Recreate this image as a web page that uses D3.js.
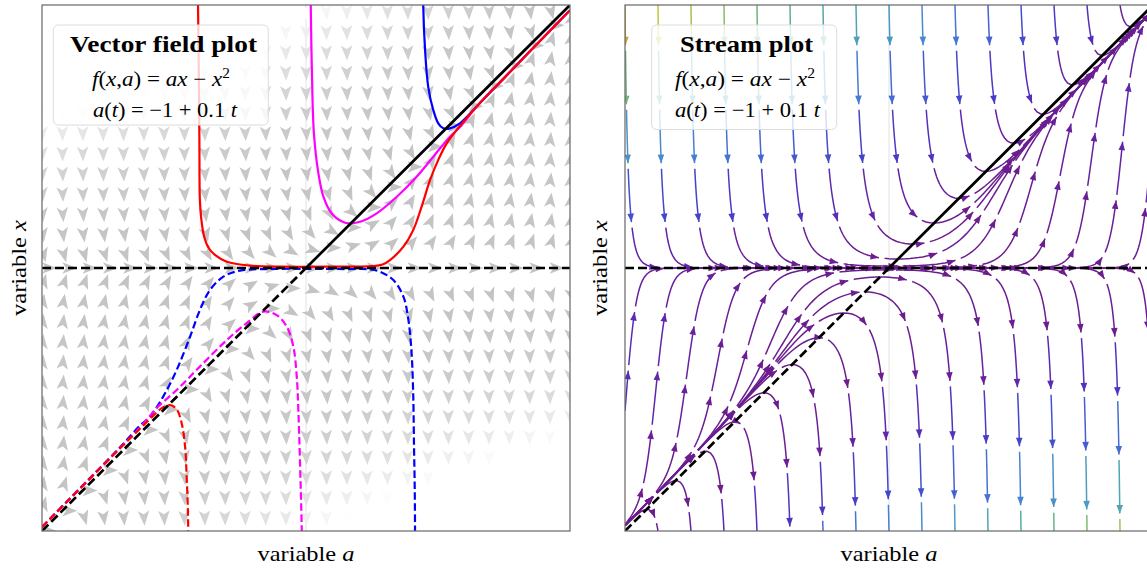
<!DOCTYPE html>
<html lang="en">
<head>
<meta charset="UTF-8">
<title>Transcritical bifurcation: vector field and stream plot</title>
<script src="https://d3js.org/d3.v7.min.js"></script>
<style>
  body { margin: 0; background: #fff; }
  svg { display: block; font-family: "Liberation Serif", "DejaVu Serif", serif; }
</style>
</head>
<body>
<div id="chart"></div>
<script>
// ---- values ----
// trajectories in the vector field panel, [a, x] pairs
const redSolid = [[-0.410, 1.03], [-0.409, 1.0], [-0.404, 0.513], [-0.402, 0.259], [-0.397, 0.19], [-0.386, 0.12],
  [-0.368, 0.075], [-0.345, 0.05], [-0.30, 0.024], [-0.21, 0.009], [-0.1, 0.005], [0.1, 0.005], [0.25, 0.007],
  [0.29, 0.013], [0.318, 0.030], [0.369, 0.081], [0.406, 0.144], [0.438, 0.233], [0.470, 0.335], [0.501, 0.411],
  [0.533, 0.474], [0.571, 0.525], [0.65, 0.618], [0.75, 0.722], [0.85, 0.826], [1.0, 0.98]];
const magentaSolid = [[0.018, 1.03], [0.018, 1.0], [0.022, 0.765], [0.030, 0.512], [0.047, 0.360], [0.066, 0.271],
  [0.097, 0.208], [0.148, 0.172], [0.205, 0.176], [0.268, 0.208], [0.344, 0.271], [0.419, 0.347], [0.482, 0.423],
  [0.545, 0.499], [0.583, 0.536], [0.65, 0.618], [0.75, 0.722], [0.85, 0.826], [1.0, 0.98]];
const blueSolid = [[0.444, 1.03], [0.444, 1.0], [0.451, 0.829], [0.463, 0.689], [0.482, 0.601], [0.501, 0.550],
  [0.520, 0.531], [0.545, 0.531], [0.583, 0.550], [0.65, 0.618], [0.75, 0.722], [0.85, 0.826], [1.0, 0.98]];
const redDashed = [[-1.0, -0.985], [-0.9, -0.883], [-0.8, -0.782], [-0.7, -0.681], [-0.63, -0.612], [-0.58, -0.563],
  [-0.545, -0.532], [-0.515, -0.521], [-0.49, -0.537], [-0.471, -0.590], [-0.458, -0.679], [-0.452, -0.794],
  [-0.448, -0.9], [-0.446, -1.0], [-0.446, -1.03]];
const magentaDashed = [[-1.0, -0.985], [-0.9, -0.883], [-0.8, -0.782], [-0.7, -0.68], [-0.62, -0.597],
  [-0.566, -0.533], [-0.490, -0.464], [-0.402, -0.375], [-0.300, -0.274], [-0.225, -0.210], [-0.162, -0.166],
  [-0.111, -0.179], [-0.073, -0.223], [-0.048, -0.299], [-0.035, -0.413], [-0.029, -0.540], [-0.023, -0.730],
  [-0.016, -1.0], [-0.016, -1.03]];
const blueDashed = [[-1.0, -0.985], [-0.9, -0.882], [-0.8, -0.78], [-0.7, -0.677], [-0.63, -0.6], [-0.591, -0.565],
  [-0.541, -0.489], [-0.490, -0.388], [-0.439, -0.261], [-0.402, -0.160], [-0.364, -0.084], [-0.313, -0.033],
  [-0.25, -0.010], [-0.149, -0.004], [0.0, -0.003], [0.15, -0.004], [0.242, -0.005], [0.280, -0.014],
  [0.331, -0.046], [0.369, -0.109], [0.388, -0.198], [0.400, -0.324], [0.406, -0.476], [0.409, -0.667],
  [0.412, -0.85], [0.413, -1.0], [0.413, -1.03]];

// equilibrium branches
const stableBranch = [[0, 0], [1, 1]];
const unstableBranch = [[-1, -1], [0, 0]];
const zeroBranch = [[-1, 0], [1, 0]];

// panel texts
const panelTitles = ["Vector field plot", "Stream plot"];
const axisLabelA = "variable ", axisLabelX = "variable ";

const fieldGain = 50;
const fieldGrid = d3.range(27).map(i => -1 + i / 13);

// stream colours by |f|
const streamStops = [0, 0.12, 0.22, 0.32, 0.45, 0.65, 0.85, 1.05, 1.3, 1.5, 1.7, 1.88, 2.0];
const streamColors = ["#6c1d8d", "#6a1f9c", "#5b2ab2", "#4d36c2", "#4444cc", "#4466d2", "#4886d0", "#4c9ec0",
  "#56aca0", "#6cb67e", "#96c25a", "#c2c63a", "#c8a522"];

// ---- layout ----
const W = 1147, H = 572;
const pw = 528, ph = 526, panelTop = 5;
const lefts = [42, 625];

const svg = d3.select("#chart").append("svg").attr("width", W).attr("height", H);
const sa = d3.scaleLinear().domain([-1, 1]).range([0, pw]);
const sx = d3.scaleLinear().domain([-1, 1]).range([ph, 0]);
const defs = svg.append("defs");
["clipL", "clipR"].forEach(id => defs.append("clipPath").attr("id", id)
  .append("rect").attr("width", pw).attr("height", ph));

const line = d3.line().x(d => sa(d[0])).y(d => sx(d[1])).curve(d3.curveCatmullRom.alpha(0.5));
const straight = d3.line().x(d => sa(d[0])).y(d => sx(d[1]));

const gL = svg.append("g").attr("transform", `translate(${lefts[0]},${panelTop})`);
const gR = svg.append("g").attr("transform", `translate(${lefts[1]},${panelTop})`);

// ---- left: vector field ----
const bodyL = gL.append("g").attr("clip-path", "url(#clipL)");
bodyL.append("line").attr("x1", sa(0)).attr("x2", sa(0)).attr("y1", 0).attr("y2", ph)
  .attr("stroke", "#e2e2e2").attr("stroke-width", 1);

const arrows = [];
fieldGrid.forEach(a => fieldGrid.forEach(x => arrows.push({ a, x, f: x * (a - x) })));
const shade = d3.interpolateRgb("#c4c4c4", "#ffffff");
bodyL.append("g").selectAll("path").data(arrows).join("path")
  .attr("d", "M15,0L0,5.8L3.6,0L0,-5.8Z")
  .attr("transform", d => {
    const dx = sa(d.a + 0.01) - sa(d.a);
    const dy = sx(d.x + 0.01 * fieldGain * d.f) - sx(d.x);
    return `translate(${sa(d.a)},${sx(d.x)}) rotate(${Math.atan2(dy, dx) * 180 / Math.PI})`;
  })
  .attr("fill", d => shade(Math.min(1, d.f * d.f)));

const curves = [
  { data: blueDashed, color: "#0000ff", dash: "7.5,3.5" },
  { data: magentaDashed, color: "#ff00ff", dash: "7.5,3.5" },
  { data: redDashed, color: "#ff0000", dash: "7.5,3.5" },
  { data: blueSolid, color: "#0000ff", dash: null },
  { data: magentaSolid, color: "#ff00ff", dash: null },
  { data: redSolid, color: "#ff0000", dash: null }
];
bodyL.append("g").selectAll("path").data(curves).join("path")
  .attr("d", d => line(d.data)).attr("fill", "none")
  .attr("stroke", d => d.color).attr("stroke-width", 2.2)
  .attr("stroke-dasharray", d => d.dash);

function branches(g) {
  g.append("path").attr("d", straight(zeroBranch)).attr("stroke", "#000").attr("stroke-width", 2.7)
    .attr("stroke-dasharray", "9,4").attr("fill", "none");
  g.append("path").attr("d", straight(unstableBranch)).attr("stroke", "#000").attr("stroke-width", 2.7)
    .attr("stroke-dasharray", "9,4").attr("fill", "none");
  g.append("path").attr("d", straight(stableBranch)).attr("stroke", "#000").attr("stroke-width", 2.7)
    .attr("fill", "none");
}
branches(bodyL);

// ---- right: stream plot (mask-seeded streamlines, unbroken) ----
const streamMask = 17, maxlength = 4.0, minlength = 0.1;
function computeStreamlines() {
  const G = 101, M = streamMask;
  const occ = new Uint8Array(M * M);
  let cur = null, cells = [];
  const inGrid = (xi, yi) => xi >= 0 && xi <= G - 1 && yi >= 0 && yi <= G - 1;
  const toMask = v => Math.round(v * (M - 1) / (G - 1));
  function mark(xg, yg) {
    const xm = toMask(xg), ym = toMask(yg);
    if (cur && cur[0] === xm && cur[1] === ym) return;
    const k = ym * M + xm;
    if (!occ[k]) { occ[k] = 1; cells.push(k); cur = [xm, ym]; }
  }
  function vel(xi, yi, sgn) {
    const a = -1 + 2 * xi / (G - 1), x = -1 + 2 * yi / (G - 1);
    const u = 1, v = fieldGain * x * (a - x);
    const sp = Math.hypot(u, v);
    return [sgn * (G - 1) * u / sp, sgn * (G - 1) * v / sp];
  }
  const maxds = 0.008, maxerr = 0.003;
  function rk12(x0, y0, sgn) {
    let ds = maxds, stot = 0, xi = x0, yi = y0;
    const pts = [];
    const euler = () => {
      const [px, py] = pts[pts.length - 1];
      const [cx, cy] = vel(px, py, sgn);
      const dsx = cx === 0 ? Infinity : cx < 0 ? px / -cx : (G - 1 - px) / cx;
      const dsy = cy === 0 ? Infinity : cy < 0 ? py / -cy : (G - 1 - py) / cy;
      const d = Math.min(dsx, dsy);
      pts.push([px + cx * d, py + cy * d]);
      stot += d;
    };
    for (let it = 0; it < 40000; it++) {
      if (!inGrid(xi, yi)) { if (pts.length) euler(); break; }
      pts.push([xi, yi]);
      const k1 = vel(xi, yi, sgn);
      const xt = xi + ds * k1[0], yt = yi + ds * k1[1];
      if (!inGrid(xt, yt)) { euler(); break; }
      const k2 = vel(xt, yt, sgn);
      const dx1 = ds * k1[0], dy1 = ds * k1[1];
      const dx2 = ds * 0.5 * (k1[0] + k2[0]), dy2 = ds * 0.5 * (k1[1] + k2[1]);
      const err = Math.hypot((dx2 - dx1) / (G - 1), (dy2 - dy1) / (G - 1));
      if (err < maxerr) {
        xi += dx2; yi += dy2;
        if (!inGrid(xi, yi)) break;
        mark(xi, yi);
        if (stot + ds > maxlength) break;
        stot += ds;
      }
      ds = err === 0 ? maxds : Math.min(maxds, 0.85 * ds * Math.sqrt(maxerr / err));
    }
    return { s: stot, pts };
  }
  function integrate(x0, y0) {
    cells = [];
    const xm = toMask(x0), ym = toMask(y0);
    if (occ[ym * M + xm]) return null;
    occ[ym * M + xm] = 1; cells.push(ym * M + xm); cur = [xm, ym];
    const b = rk12(x0, y0, -1);
    cur = [xm, ym];
    const f = rk12(x0, y0, 1);
    if (b.s + f.s > minlength) return b.pts.reverse().concat(f.pts.slice(1));
    cells.forEach(k => { occ[k] = 0; });
    return null;
  }
  function* spiral(n) {
    let xf = 0, yf = 1, xl = n - 1, yl = n - 1, x = 0, y = 0, dir = 0;
    for (let i = 0; i < n * n; i++) {
      yield [x, y];
      if (dir === 0) { x += 1; if (x >= xl) { xl -= 1; dir = 1; } }
      else if (dir === 1) { y += 1; if (y >= yl) { yl -= 1; dir = 2; } }
      else if (dir === 2) { x -= 1; if (x <= xf) { xf += 1; dir = 3; } }
      else { y -= 1; if (y <= yf) { yf += 1; dir = 0; } }
    }
  }
  const out = [];
  for (const [xm, ym] of spiral(M)) {
    // side columns are only seeded at the corners
    if ((xm === 0 || xm === M - 1) && ym > 0 && ym < M - 1) continue;
    if (occ[ym * M + xm]) continue;
    const t = integrate(xm * (G - 1) / (M - 1), ym * (G - 1) / (M - 1));
    if (t) out.push(t.map(([xi, yi]) => [-1 + 2 * xi / (G - 1), -1 + 2 * yi / (G - 1)]));
  }
  return out;
}

const streamColor = d3.scaleLinear().domain(streamStops).range(streamColors).clamp(true);
const piecePeriod = 59, piecePhase = 43, pieceGap = 2.8;
const bodyR = gR.append("g").attr("clip-path", "url(#clipR)");
bodyR.append("line").attr("x1", sa(0)).attr("x2", sa(0)).attr("y1", 0).attr("y2", ph)
  .attr("stroke", "#e2e2e2").attr("stroke-width", 1);
const streamG = bodyR.append("g");

function drawStream(tr) {
  const P = tr.map(d => [sa(d[0]), sx(d[1])]);
  const S = [0];
  for (let i = 1; i < P.length; i++) S.push(S[i - 1] + Math.hypot(P[i][0] - P[i - 1][0], P[i][1] - P[i - 1][1]));
  const total = S[S.length - 1];
  const at = s => {
    let i = d3.bisectRight(S, s) - 1;
    i = Math.max(0, Math.min(P.length - 2, i));
    const seg = S[i + 1] - S[i], t = seg > 0 ? (s - S[i]) / seg : 0;
    return [P[i][0] + t * (P[i + 1][0] - P[i][0]), P[i][1] + t * (P[i + 1][1] - P[i][1])];
  };
  let start = 0, end = piecePhase;
  while (start < total) {
    const full = end <= total;
    const s0 = start === 0 ? 0 : start + pieceGap;
    const s1 = full ? end - pieceGap : total;
    if (s1 - s0 > 0.5) {
      const pts = [at(s0)];
      for (let i = 0; i < P.length; i++) if (S[i] > s0 && S[i] < s1) pts.push(P[i]);
      pts.push(at(s1));
      const p0 = pts[0];
      const col = streamColor(Math.abs(sx.invert(p0[1]) * (sa.invert(p0[0]) - sx.invert(p0[1]))));
      streamG.append("path").attr("d", d3.line()(pts)).attr("fill", "none")
        .attr("stroke", col).attr("stroke-width", 1.5);
      if (full) {
        const tip = at(s1), back = at(Math.max(0, s1 - 2));
        let ux = tip[0] - back[0], uy = tip[1] - back[1];
        const n = Math.hypot(ux, uy) || 1; ux /= n; uy /= n;
        const bx = tip[0] - ux * 8.5, by = tip[1] - uy * 8.5;
        streamG.append("path")
          .attr("d", `M${tip[0]},${tip[1]}L${bx + uy * 3.3},${by - ux * 3.3}L${bx - uy * 3.3},${by + ux * 3.3}Z`)
          .attr("fill", col);
      }
    }
    start = end; end += piecePeriod;
  }
}
computeStreamlines().forEach(drawStream);
branches(bodyR);

// ---- frames, legends, labels ----
[gL, gR].forEach(g => g.append("rect").attr("width", pw).attr("height", ph)
  .attr("fill", "none").attr("stroke", "#666").attr("stroke-width", 1.2));

const legends = [
  { box: [53.3, 25, 215, 100], title: [163.5, 187], l2: [161, 138], l3: [165, 144] },
  { box: [651.7, 25, 185, 104.5], title: [746.5, 133], l2: [745, 140], l3: [747.5, 145] }
];
legends.forEach((L, i) => {
  const g = svg.append("g");
  g.append("rect").attr("x", L.box[0]).attr("y", L.box[1]).attr("width", L.box[2]).attr("height", L.box[3])
    .attr("rx", 5).attr("fill", "#fff").attr("fill-opacity", 0.8).attr("stroke", "#dcdcdc").attr("stroke-width", 1);
  g.append("text").attr("x", L.title[0]).attr("y", 52).attr("text-anchor", "middle")
    .attr("font-size", 23).attr("font-weight", "bold")
    .attr("textLength", L.title[1]).attr("lengthAdjust", "spacingAndGlyphs").text(panelTitles[i]);
  const t2 = g.append("text").attr("x", L.l2[0]).attr("y", 86).attr("text-anchor", "middle").attr("font-size", 21)
    .attr("textLength", L.l2[1]).attr("lengthAdjust", "spacingAndGlyphs");
  [["f", 1], ["(", 0], ["x", 1], [",", 0], ["a", 1], [")", 0], [" = ", 0], ["ax", 1], [" \u2212 ", 0], ["x", 1]]
    .forEach(([s, it]) => t2.append("tspan").attr("font-style", it ? "italic" : null).text(s));
  t2.append("tspan").attr("font-size", 14).attr("dy", -8).text("2");
  const t3 = g.append("text").attr("x", L.l3[0]).attr("y", 116.5).attr("text-anchor", "middle").attr("font-size", 21)
    .attr("textLength", L.l3[1]).attr("lengthAdjust", "spacingAndGlyphs");
  [["a", 1], ["(", 0], ["t", 1], [")", 0], [" = \u22121 + 0.1 ", 0], ["t", 1]]
    .forEach(([s, it]) => t3.append("tspan").attr("font-style", it ? "italic" : null).text(s));
});

lefts.forEach((l, i) => {
  const xl = svg.append("text").attr("x", l + pw / 2).attr("y", 561).attr("text-anchor", "middle")
    .attr("font-size", 22).attr("textLength", 97).attr("lengthAdjust", "spacingAndGlyphs");
  xl.append("tspan").text(axisLabelA);
  xl.append("tspan").attr("font-style", "italic").text("a");
  const yl = svg.append("text").attr("transform", `translate(${i === 0 ? 26 : 607},268) rotate(-90)`)
    .attr("text-anchor", "middle").attr("font-size", 22).attr("textLength", 96).attr("lengthAdjust", "spacingAndGlyphs");
  yl.append("tspan").text(axisLabelX);
  yl.append("tspan").attr("font-style", "italic").text("x");
});
</script>
</body>
</html>
